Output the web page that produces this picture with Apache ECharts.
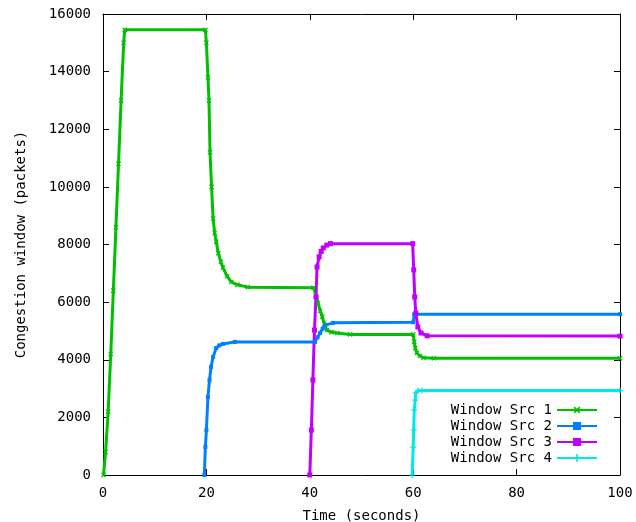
<!DOCTYPE html>
<html>
<head>
<meta charset="utf-8">
<script src="https://cdn.jsdelivr.net/npm/echarts@6/dist/echarts.min.js"></script>
<style>
  body { margin: 0; background: #fff; }
  #chart { width: 636px; height: 522px; }
</style>
</head>
<body>
<div id="chart"></div>
<script>
// [time (s), congestion window (packets)]
const src1 = [
  [0.1, 0], [0.5, 800], [1.0, 2200], [1.5, 4200], [2.0, 6400], [2.5, 8600],
  [3.0, 10800], [3.5, 13000], [4.0, 15000], [4.2, 15450],
  [19.8, 15450], [20.0, 15000], [20.3, 13800],
  [20.5, 13000], [20.7, 11200], [21.0, 10000], [21.3, 8900], [21.6, 8400],
  [21.9, 8100], [22.3, 7700], [22.8, 7400], [23.2, 7200], [24.0, 6900],
  [24.8, 6700], [26, 6600], [28, 6520], [40.7, 6500],
  [41.2, 6250], [41.6, 5970], [42.0, 5700], [42.4, 5490], [42.8, 5250],
  [43.3, 5030], [44.2, 4960], [45.3, 4930], [47.8, 4880],
  [60.0, 4880], [60.2, 4620], [60.4, 4410], [60.7, 4240],
  [61.3, 4130], [62, 4070], [64, 4050], [100, 4050]
];
const src2 = [
  [19.6, 0], [19.8, 970], [20.0, 1560], [20.3, 2710], [20.6, 3300],
  [20.9, 3750], [21.3, 4100], [21.9, 4410], [22.5, 4500], [23.2, 4550],
  [25.5, 4620], [41.0, 4620], [41.5, 4780],
  [42.0, 4930], [42.5, 5080], [43.0, 5200], [44.5, 5280],
  [60.0, 5300], [60.2, 5580], [100, 5580]
];
const src3 = [
  [40.0, 0], [40.3, 1560], [40.6, 3300], [40.9, 5030], [41.2, 6180],
  [41.4, 7220], [41.8, 7570], [42.2, 7760], [42.6, 7880], [43.3, 7980],
  [44.0, 8030], [59.9, 8030], [60.1, 7120],
  [60.3, 6180], [60.5, 5620], [60.9, 5140], [61.5, 4930], [62.7, 4830],
  [100, 4820]
];
const src4 = [
  [59.8, 0], [60.0, 970], [60.1, 1560], [60.2, 2260], [60.4, 2600],
  [60.5, 2850], [60.9, 2920], [61.7, 2930], [100, 2930]
];
const names = ["Window Src 1", "Window Src 2", "Window Src 3", "Window Src 4"];
const colors = ["#00c000", "#0080ff", "#c000ff", "#00e8e8"];

const font = "DejaVu Sans Mono";
const plus = "path://M4,0H6V4H10V6H6V10H4V6H0V4H4Z";

function axisCommon(pos) {
  return {
    type: "value",
    position: pos,
    axisLine: { show: true, onZero: false, lineStyle: { color: "#000", width: 1 } },
    axisTick: { show: true, inside: true, length: 6, lineStyle: { color: "#000", width: 1 } },
    splitLine: { show: false },
    axisLabel: { show: false },
  };
}

function line(i, data, symbol, size, rotate) {
  return {
    name: names[i],
    type: "line",
    data: data,
    color: colors[i],
    symbol: symbol,
    symbolSize: size,
    symbolRotate: rotate || 0,
    showAllSymbol: true,
    lineStyle: { width: 3, color: colors[i] },
    itemStyle: { color: colors[i] },
    emphasis: { disabled: true },
  };
}

const chart = echarts.init(document.getElementById("chart"));
chart.setOption({
  animation: false,
  backgroundColor: "#fff",
  textStyle: { fontFamily: font, color: "#000" },
  grid: { left: 103, right: 16, top: 14, bottom: 47, containLabel: false, outerBoundsMode: "none" },
  xAxis: [
    Object.assign(axisCommon("bottom"), {
      min: 0, max: 100, interval: 20,
      axisLabel: { show: true, margin: 11, fontFamily: font, fontSize: 14, color: "#000" },
      name: "Time (seconds)",
      nameLocation: "middle",
      nameGap: 34,
      nameTextStyle: { fontFamily: font, fontSize: 14, color: "#000" },
    }),
    Object.assign(axisCommon("top"), { min: 0, max: 100, interval: 20 }),
  ],
  yAxis: [
    Object.assign(axisCommon("left"), {
      min: 0, max: 16000, interval: 2000,
      axisLabel: {
        show: true, margin: 12, fontFamily: font, fontSize: 14, color: "#000",
        formatter: (v) => String(v),
      },
      name: "Congestion window (packets)",
      nameLocation: "middle",
      nameGap: 75,
      nameTextStyle: { fontFamily: font, fontSize: 14, color: "#000" },
    }),
    Object.assign(axisCommon("right"), { min: 0, max: 16000, interval: 2000 }),
  ],
  legend: {
    data: names,
    orient: "vertical",
    right: 38,
    top: 402,
    padding: 0,
    align: "right",
    itemWidth: 40,
    itemHeight: 10,
    itemGap: 0,
    textStyle: { fontFamily: font, fontSize: 14, lineHeight: 16, color: "#000" },
  },
  series: [
    line(0, src1, plus, 6, 45),
    line(1, src2, "rect", 4),
    line(2, src3, "rect", 5),
    line(3, src4, plus, 6),
  ],
});
</script>
</body>
</html>
